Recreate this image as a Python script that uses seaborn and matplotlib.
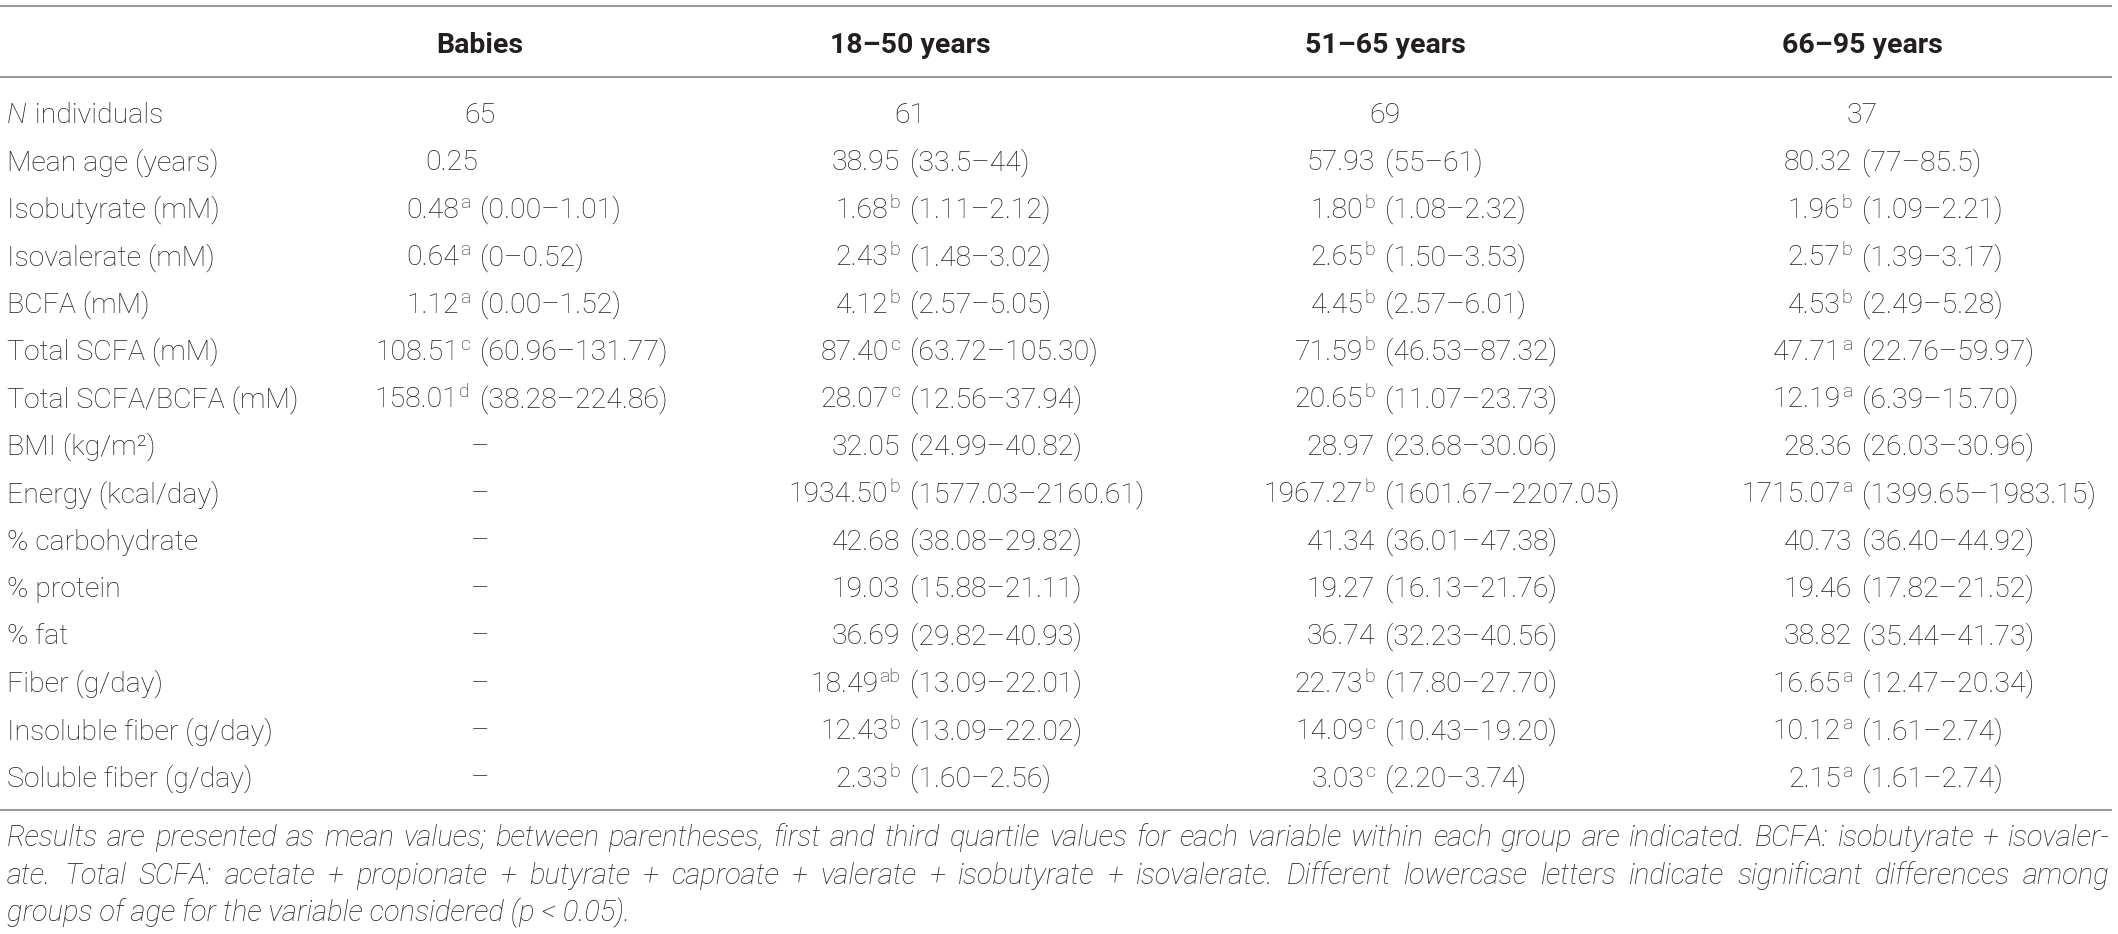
import matplotlib
matplotlib.use("Agg")
import matplotlib.pyplot as plt
import seaborn as sns

# ---- table content -------------------------------------------------------
groups = ["Babies", "18–50 years", "51–65 years", "66–95 years"]

row_labels = [
    "N individuals", "Mean age (years)", "Isobutyrate (mM)", "Isovalerate (mM)",
    "BCFA (mM)", "Total SCFA (mM)", "Total SCFA/BCFA (mM)", "BMI (kg/m²)",
    "Energy (kcal/day)", "% carbohydrate", "% protein", "% fat",
    "Fiber (g/day)", "Insoluble fiber (g/day)", "Soluble fiber (g/day)",
]

babies_mean = ["65", "0.25", "0.48", "0.64", "1.12", "108.51", "158.01",
               "–", "–", "–", "–", "–", "–", "–", "–"]
babies_sup = ["", "", "a", "a", "a", "c", "d", "", "", "", "", "", "", "", ""]
babies_range = ["", "", "0.00–1.01", "0–0.52", "0.00–1.52", "60.96–131.77",
                "38.28–224.86", "", "", "", "", "", "", "", ""]

adult_mean = ["61", "38.95", "1.68", "2.43", "4.12", "87.40", "28.07", "32.05",
              "1934.50", "42.68", "19.03", "36.69", "18.49", "12.43", "2.33"]
adult_sup = ["", "", "b", "b", "b", "c", "c", "", "b", "", "", "", "ab", "b", "b"]
adult_range = ["", "33.5–44", "1.11–2.12", "1.48–3.02", "2.57–5.05",
               "63.72–105.30", "12.56–37.94", "24.99–40.82", "1577.03–2160.61",
               "38.08–29.82", "15.88–21.11", "29.82–40.93", "13.09–22.01",
               "13.09–22.02", "1.60–2.56"]

middle_mean = ["69", "57.93", "1.80", "2.65", "4.45", "71.59", "20.65", "28.97",
               "1967.27", "41.34", "19.27", "36.74", "22.73", "14.09", "3.03"]
middle_sup = ["", "", "b", "b", "b", "b", "b", "", "b", "", "", "", "b", "c", "c"]
middle_range = ["", "55–61", "1.08–2.32", "1.50–3.53", "2.57–6.01",
                "46.53–87.32", "11.07–23.73", "23.68–30.06", "1601.67–2207.05",
                "36.01–47.38", "16.13–21.76", "32.23–40.56", "17.80–27.70",
                "10.43–19.20", "2.20–3.74"]

elder_mean = ["37", "80.32", "1.96", "2.57", "4.53", "47.71", "12.19", "28.36",
              "1715.07", "40.73", "19.46", "38.82", "16.65", "10.12", "2.15"]
elder_sup = ["", "", "b", "b", "b", "a", "a", "", "a", "", "", "", "a", "a", "a"]
elder_range = ["", "77–85.5", "1.09–2.21", "1.39–3.17", "2.49–5.28",
               "22.76–59.97", "6.39–15.70", "26.03–30.96", "1399.65–1983.15",
               "36.40–44.92", "17.82–21.52", "35.44–41.73", "12.47–20.34",
               "1.61–2.74", "1.61–2.74"]

footnote = [
    "Results are presented as mean values; between parentheses, first and third "
    "quartile values for each variable within each group are indicated. BCFA: "
    "isobutyrate + isovaler-",
    "ate. Total SCFA: acetate + propionate + butyrate + caproate + valerate + "
    "isobutyrate + isovalerate. Different lowercase letters indicate significant "
    "differences among",
    "groups of age for the variable considered (p < 0.05).",
]

columns = [
    (babies_mean, babies_sup, babies_range),
    (adult_mean, adult_sup, adult_range),
    (middle_mean, middle_sup, middle_range),
    (elder_mean, elder_sup, elder_range),
]

# ---- layout (pixels) -----------------------------------------------------
W, H = 2118, 934
anchors = [480, 910, 1385, 1862]   # x of the opening parenthesis in each column
row_y0, row_dy = 113, 47.4
label_x = 7
ink = "#231f20"
rule = "#9a9a9a"
fs = 20.5
fs_sup = 14

sns.set_theme(style="white")
plt.rcParams["font.family"] = ["Roboto", "DejaVu Sans"]

fig = plt.figure(figsize=(W / 100, H / 100), dpi=100)
ax = fig.add_axes([0, 0, 1, 1])
ax.set_xlim(0, W)
ax.set_ylim(H, 0)
ax.axis("off")
renderer = fig.canvas.get_renderer()


def width_of(txt, **kw):
    t = ax.text(0, 0, txt, **kw)
    w = t.get_window_extent(renderer).width
    t.remove()
    return w


base = dict(color=ink, fontsize=fs, fontweight="light", va="baseline")
supkw = dict(color=ink, fontsize=fs_sup, fontweight="light", va="baseline")

# horizontal rules
for y in (6, 77, 810):
    ax.plot([0, W - 6], [y, y], color=rule, lw=1.5, solid_capstyle="butt")

# header
for g, x in zip(groups, anchors):
    ax.text(x, 43 + 10, g, ha="center", color=ink, fontsize=fs,
            fontweight="bold", va="baseline")

# row labels
for i, lab in enumerate(row_labels):
    y = row_y0 + i * row_dy + 10
    if lab.startswith("N "):
        ax.text(label_x, y, "N", ha="left", style="italic", **base)
        wn = width_of("N", style="italic", **base)
        ax.text(label_x + wn + 1, y, lab[1:], ha="left", **base)
    else:
        ax.text(label_x, y, lab, ha="left", **base)

# cells
gap = 10
for (means, sups, ranges), x in zip(columns, anchors):
    for i, (m, s, r) in enumerate(zip(means, sups, ranges)):
        y = row_y0 + i * row_dy + 10
        if not r:
            if m.isdigit() or m == "–":
                ax.text(x, y, m, ha="center", **base)
            else:
                ax.text(x - 2, y, m, ha="right", **base)
            continue
        ax.text(x, y, f"({r})", ha="left", **base)
        right = x - gap
        if s:
            ax.text(right, y - 10, s, ha="right", **supkw)
            right -= width_of(s, **supkw) + 1
        ax.text(right, y, m, ha="right", **base)

# footnote, justified like the journal layout
x0, x1 = 7, W - 8
foot_fs = 17.0
while foot_fs < 23:
    test = dict(color=ink, fontsize=foot_fs + 0.25, fontweight="light",
                style="italic", va="baseline")
    if width_of(footnote[0], **test) > (x1 - x0) * 0.985:
        break
    foot_fs += 0.25
fkw = dict(color=ink, fontsize=foot_fs, fontweight="light", style="italic",
           va="baseline")
foot_y = [838 + 8, 876 + 8, 913 + 8]
for k, (line, y) in enumerate(zip(footnote, foot_y)):
    words = line.split(" ")
    if k == len(footnote) - 1:
        ax.text(x0, y, line, ha="left", **fkw)
        continue
    widths = [width_of(w, **fkw) for w in words]
    space = (x1 - x0 - sum(widths)) / (len(words) - 1)
    x = x0
    for w, wd in zip(words, widths):
        ax.text(x, y, w, ha="left", **fkw)
        x += wd + space

fig.savefig("out.png", dpi=100, facecolor="white")
